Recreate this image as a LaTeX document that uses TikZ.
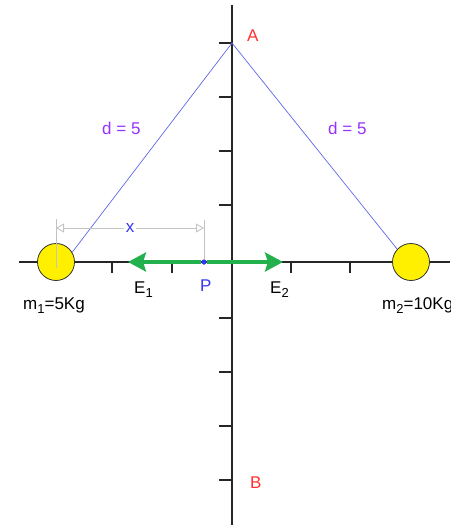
\documentclass[tikz,border=0pt]{standalone}
\usepackage{fontspec}
\setmainfont{Liberation Sans}
\usetikzlibrary{arrows.meta}

\definecolor{ballyellow}{RGB}{255,240,0}
\definecolor{stringblue}{RGB}{95,105,230}
\definecolor{labelviolet}{RGB}{150,50,255}
\definecolor{pointblue}{RGB}{55,55,245}
\definecolor{fieldgreen}{RGB}{34,177,76}
\definecolor{labelred}{RGB}{255,50,50}
\definecolor{dimgray}{RGB}{195,195,195}

\newcommand{\lowsub}[1]{\raisebox{-4pt}{\fontsize{13}{15}\selectfont #1}}

\begin{document}
\begin{tikzpicture}[x=1pt, y=-1pt,
        axis/.style={draw=black!85, line width=1.3pt},
        tickmark/.style={draw=black!85, line width=1.3pt},
        mass/.style={circle, draw=black!80, line width=0.8pt, fill=ballyellow, minimum size=37pt, inner sep=0pt},
        string/.style={draw=stringblue, line width=0.7pt},
        field/.style={draw=fieldgreen, line width=3.8pt, -{Stealth[length=18pt, width=19pt, inset=3pt]}},
        extline/.style={draw=dimgray, line width=0.9pt},
        dimline/.style={draw=dimgray, line width=0.9pt, {Triangle[open, length=8pt, width=9pt]}-{Triangle[open, length=8pt, width=9pt]}},
        pdot/.style={circle, fill=pointblue, minimum size=5pt, inner sep=0pt},
        lbl/.style={anchor=base west, inner sep=0pt, font=\fontsize{17}{20}\selectfont}
      ]
      \clip (0,0) rectangle (450,525);
      \fill[white] (0,0) rectangle (450,525);

      % axes
      \coordinate (xl) at (19,262);
      \coordinate (xr) at (450,262);
      \coordinate (yt) at (232,5);
      \coordinate (yb) at (232,525);
      \draw[axis] (xl) -- (xr);
      \draw[axis] (yt) -- (yb);
      \foreach \ty in {43,97,151,205,318,372,426,480}
        \draw[tickmark] (219,\ty) -- (232,\ty);
      \foreach \tx in {112,172,291,350}
        \draw[tickmark] (\tx,262) -- (\tx,273);

      % masses and strings
      \coordinate (A) at (232,43);
      \node[mass] (m1) at (56,262) {};
      \node[mass] (m2) at (411,262) {};
      \draw[string] (A) -- (m1.31);
      \draw[string] (A) -- (m2.137);

      % field at P
      \node[pdot] (P) at (204,262) {};
      \coordinate (e1tip) at (128,262);
      \coordinate (e2tip) at (283,262);
      \draw[field] (P) -- (e1tip);
      \draw[field] (P) -- (e2tip);
      \node[pdot] at (P) {};

      % distance x
      \coordinate (x1) at (56,219);
      \coordinate (x2) at (204,220);
      \coordinate (d1) at (56,228);
      \coordinate (d2) at (204,228);
      \draw[extline] (x1) -- (56,268);
      \draw[extline] (x2) -- (P);
      \draw[dimline] (d1) -- node[fill=white, inner sep=2pt, text=pointblue, font=\fontsize{17}{20}\selectfont] (xlab) {x} (d2);

      % labels
      \node[lbl, text=labelred] (Alab) at (247,41) {A};
      \node[lbl, text=labelred] (Blab) at (250,488) {B};
      \node[lbl, text=labelviolet] (dleft) at (102,134) {d = 5};
      \node[lbl, text=labelviolet] (dright) at (328,134) {d = 5};
      \node[lbl, text=pointblue] (Plab) at (200,291) {P};
      \node[lbl] (E1lab) at (134,293) {E\lowsub{1}};
      \node[lbl] (E2lab) at (270,293) {E\lowsub{2}};
      \node[lbl] (m1lab) at (23,309) {m\lowsub{1}=5Kg};
      \node[lbl] (m2lab) at (382,309) {m\lowsub{2}=10Kg};
    \end{tikzpicture}
\end{document}
